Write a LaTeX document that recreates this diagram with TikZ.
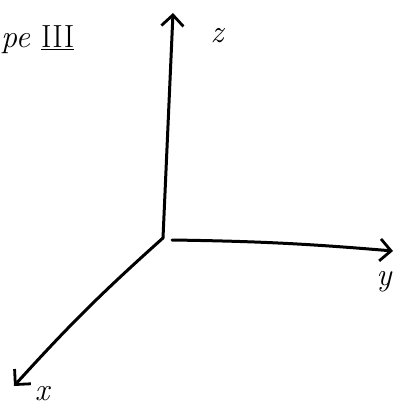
\documentclass[tikz,border=0pt]{standalone}
\usepackage{tikz}
\usetikzlibrary{arrows.meta}

\begin{document}
\begin{tikzpicture}[x=1pt,y=-1pt]
\tikzset{axis/.style={line width=3pt,line cap=round,-{Straight Barb[length=11pt,width=22pt,line width=2.8pt]}},
  lbl/.style={font=\fontsize{32}{34}\selectfont\itshape,inner sep=0pt}}

\useasboundingbox (0,0) rectangle (396,409);

\coordinate (O) at (163,238);
\coordinate (Oy) at (172,240);
\coordinate (Z) at (173,13);
\coordinate (Y) at (393,251);
\coordinate (X) at (14,386);

\draw[axis] (O) -- (Z);
\draw[axis] (Oy) to[bend left=2] (Y);
\draw[axis] (O) to[bend right=3] (X);

\node[lbl] (zl) at (217,36) {z};
\node[lbl] (yl) at (384,282) {y};
\node[lbl] (xl) at (42,394) {x};

\node[lbl,anchor=west] (title) at (1,40) {pe \underline{\upshape III}};

\end{tikzpicture}
\end{document}
